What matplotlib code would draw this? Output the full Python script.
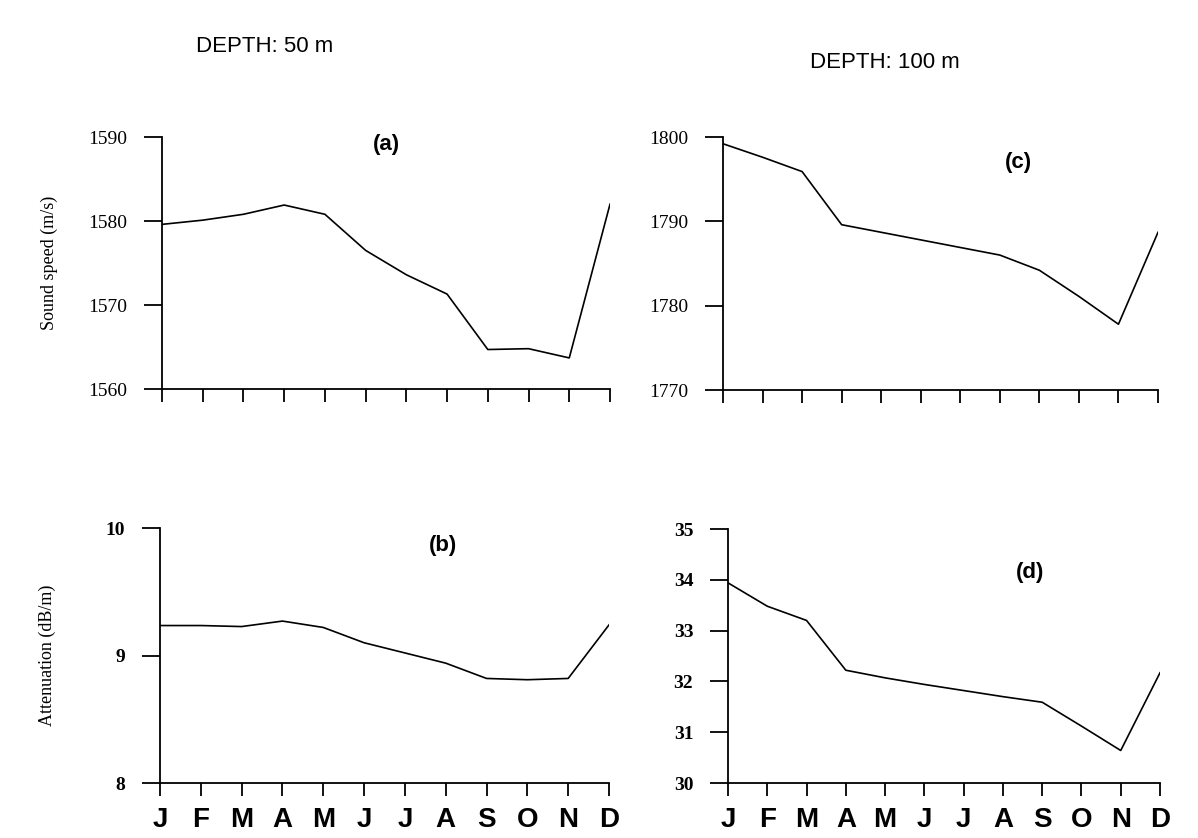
import numpy as np
import matplotlib.pyplot as plt

# Місяці року (підписи осі X).
months = ['J', 'F', 'M', 'A', 'M', 'J', 'J', 'A', 'S', 'O', 'N', 'D']

# Швидкість звуку та загасання, глибина 50 м.
speed_50 = [1579.6, 1580.1, 1580.8, 1581.9, 1580.8, 1576.5, 1573.6, 1571.3, 1564.7, 1564.8, 1563.7, 1582.0]
atten_50 = [9.235, 9.235, 9.227, 9.27, 9.22, 9.10, 9.02, 8.94, 8.82, 8.81, 8.82, 9.24]

# Швидкість звуку та загасання, глибина 100 м.
speed_100 = [1799.2, 1797.6, 1795.9, 1789.6, 1788.7, 1787.8, 1786.9, 1786.0, 1784.2, 1781.1, 1777.8, 1788.7]
atten_100 = [33.94, 33.48, 33.20, 32.22, 32.07, 31.94, 31.82, 31.70, 31.59, 31.12, 30.64, 32.17]

W, H = 1198, 838
fig = plt.figure(figsize=(W / 100, H / 100), dpi=100)


def box(left, right, top, bottom):
    return [left / W, 1 - bottom / H, (right - left) / W, (bottom - top) / H]


def panel(rect, values, ylim, yticks, label, label_xy, show_months, num_weight):
    ax = fig.add_axes(rect)
    x = np.arange(len(months))
    ax.plot(x, values, color='black', linewidth=1.2)
    ax.set_xlim(0, len(months) - 1)
    ax.set_ylim(*ylim)
    ax.set_xticks(x)
    ax.set_yticks(yticks)
    ax.set_yticklabels([str(t) for t in yticks], family='Liberation Serif',
                       fontweight=num_weight, fontsize=14)
    if show_months:
        ax.set_xticklabels(months, family='Liberation Sans', fontweight='bold', fontsize=20)
    else:
        ax.set_xticklabels([])
    for side in ['top', 'right']:
        ax.spines[side].set_visible(False)
    for side in ['left', 'bottom']:
        ax.spines[side].set_linewidth(1.3)
    ax.tick_params(axis='x', direction='out', length=9, width=1.3, pad=8)
    ax.tick_params(axis='y', direction='out', length=13, width=1.3, pad=12)
    ax.text(label_xy[0], label_xy[1], label, transform=ax.transAxes,
            family='Liberation Sans', fontweight='bold', fontsize=16,
            ha='center', va='center')
    return ax


ax_a = panel(box(162, 610, 137, 389), speed_50, (1560, 1590), [1560, 1570, 1580, 1590],
             '(a)', (0.50, 0.97), False, 'normal')
ax_c = panel(box(723, 1158, 137, 390), speed_100, (1770, 1800), [1770, 1780, 1790, 1800],
             '(c)', (0.68, 0.90), False, 'normal')
ax_b = panel(box(160, 609, 528, 783), atten_50, (8, 10), [8, 9, 10],
             '(b)', (0.63, 0.93), True, 'bold')
ax_d = panel(box(728, 1160, 529, 783), atten_100, (30, 35), [30, 31, 32, 33, 34, 35],
             '(d)', (0.70, 0.83), True, 'bold')

ax_a.set_ylabel('Sound speed (m/s)', family='Liberation Serif', fontsize=13, labelpad=22)
ax_b.set_ylabel('Attenuation (dB/m)', family='Liberation Serif', fontsize=13, labelpad=36)

fig.text(265 / W, 1 - 47 / H, 'DEPTH: 50 m', family='Liberation Sans', fontsize=16,
         ha='center', va='center')
fig.text(885 / W, 1 - 62 / H, 'DEPTH: 100 m', family='Liberation Sans', fontsize=16,
         ha='center', va='center')

fig.savefig('out.png', dpi=100)
